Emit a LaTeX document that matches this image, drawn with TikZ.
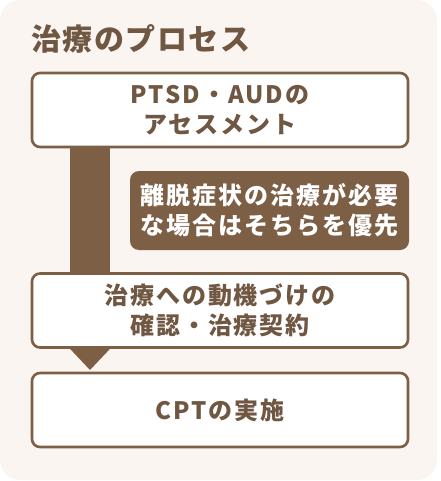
\documentclass[tikz,border=0pt]{standalone}
\usepackage{fontspec}
\usetikzlibrary{backgrounds,calc}
\newfontfamily\jp[LetterSpace=8]{Noto Sans CJK JP}
\newfontfamily\jpt[LetterSpace=5]{Noto Sans CJK JP}
\definecolor{bgc}{HTML}{FAF5F0}
\definecolor{brc}{HTML}{7D5F45}
\definecolor{txc}{HTML}{6F5742}
\tikzset{
  x=1pt,y=-1pt,
  stepbox/.style={draw=brc,line width=2.6pt,fill=white,rounded corners=8pt,
    minimum width=376pt,minimum height=74pt,inner sep=0pt,align=center,
    text=txc,font=\jp\bfseries\fontsize{24}{30}\selectfont},
  notebox/.style={fill=brc,rounded corners=9pt,minimum width=279pt,minimum height=79pt,
    inner sep=0pt,align=center,text=white,font=\jp\bfseries\fontsize{24}{30}\selectfont},
  titletext/.style={text=txc,font=\jpt\bfseries\fontsize{30}{34}\selectfont,inner sep=0pt,anchor=west}
}
\begin{document}
\begin{tikzpicture}
\useasboundingbox (0,0) rectangle (440,481);
\node[titletext] (title) at (31,39) {治療のプロセス};
\node[stepbox] (b1) at (220,110) {PTSD・AUDの\\アセスメント};
\node[notebox] (note) at (269.5,210.5) {離脱症状の治療が必要\\な場合はそちらを優先};
\node[stepbox] (b2) at (220,310.5) {治療への動機づけの\\確認・治療契約};
\node[stepbox] (b3) at (220,410) {CPTの実施};
\coordinate (bx) at (90,0);
\coordinate (tip) at (90,370);
\begin{scope}[on background layer]
  \fill[bgc,rounded corners=20pt] (0,0) rectangle (437,480);
  \fill[brc] ([xshift=-20pt]b1.south -| bx) rectangle ([xshift=20pt]b2.north -| bx);
  \fill[brc] ([xshift=-20pt]b2.south -| bx) -- ([xshift=20pt]b2.south -| bx) -- (tip) -- cycle;
\end{scope}
\end{tikzpicture}
\end{document}
